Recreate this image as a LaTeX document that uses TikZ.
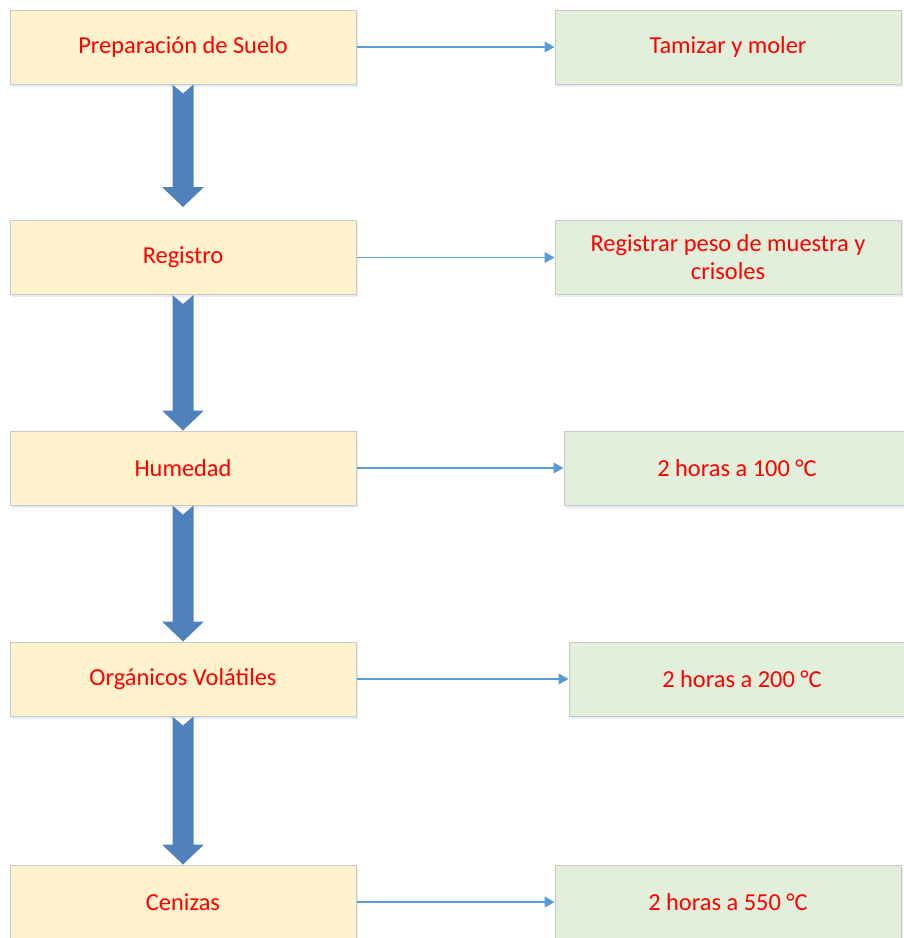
\documentclass[tikz,border=0pt]{standalone}
\usepackage{fontspec}
\setmainfont{Carlito}
\usetikzlibrary{calc,arrows.meta}
\definecolor{leftfill}{HTML}{FFF2CC}
\definecolor{rightfill}{HTML}{E2EFDA}
\definecolor{boxline}{HTML}{C9C9C9}
\definecolor{txtred}{HTML}{FF0000}
\definecolor{thinblue}{HTML}{5B9BD5}
\definecolor{bigblue}{HTML}{4F81BD}
\definecolor{shadowc}{HTML}{E4ECF6}
\tikzset{
  basebox/.style={draw=boxline, line width=1pt, inner sep=0pt, minimum width=346pt, minimum height=74pt,
    text=txtred, font=\fontsize{24.4}{28}\selectfont, align=center,
    preaction={fill=shadowc, transform canvas={shift={(1.5pt,-2.5pt)}}}},
  leftbox/.style={basebox, fill=leftfill},
  rightbox/.style={basebox, fill=rightfill},
  thinarrow/.style={draw=thinblue, line width=1.2pt, -{Triangle[length=10pt,width=11pt]}},
}
\newcommand{\bigdown}[2]{%
  \fill[bigblue] ($(#1)+(-10.5,0)$) -- ($(#1)+(0,9)$) -- ($(#1)+(10.5,0)$)
    -- ($(#2)+(10.5,-20)$) -- ($(#2)+(21,-20)$) -- (#2) -- ($(#2)+(-21,-20)$)
    -- ($(#2)+(-10.5,-20)$) -- cycle;}
\begin{document}
\begin{tikzpicture}[x=1pt,y=-1pt]
\useasboundingbox (0,0) rectangle (904,938);
\node[leftbox] (L1) at (183,47) {Preparación de Suelo};
\node[leftbox] (L2) at (183,257.5) {Registro};
\node[leftbox] (L3) at (183,468) {Humedad};
\node[leftbox] (L4) at (183,679) {Orgánicos Volátiles};
\node[leftbox] (L5) at (183,902) {Cenizas};
\node[rightbox] (R1) at (728,47) {Tamizar y moler};
\node[rightbox] (R2) at (728,257.5) {Registrar peso de muestra y\\crisoles};
\node[rightbox] (R3) at (737,468) {2 horas a 100 °C};
\node[rightbox] (R4) at (742,679) {2 horas a 200 °C};
\node[rightbox] (R5) at (728,902) {2 horas a 550 °C};
\foreach \i in {1,...,5}{\draw[thinarrow] (L\i.east) -- (R\i.west);}
\coordinate (T1) at ($(L2.north)+(0,-13)$);
\bigdown{L1.south}{T1}
\bigdown{L2.south}{L3.north}
\bigdown{L3.south}{L4.north}
\bigdown{L4.south}{L5.north}
\end{tikzpicture}
\end{document}
